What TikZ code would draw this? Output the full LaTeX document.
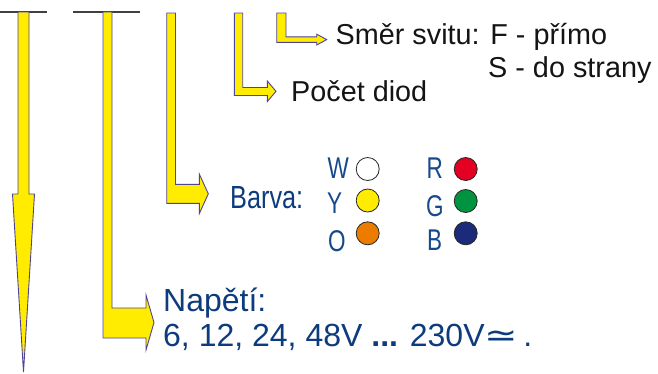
\documentclass[tikz,border=0pt]{standalone}
\usepackage{fontspec}
\setmainfont{Liberation Sans}
\newfontfamily\symfont{DejaVu Sans}
\definecolor{arrowyellow}{RGB}{255,236,0}
\definecolor{arrowedge}{RGB}{78,68,150}
\definecolor{textblue}{RGB}{22,72,140}
\definecolor{darkblue}{RGB}{12,60,125}
\definecolor{ledred}{RGB}{228,0,35}
\definecolor{ledgreen}{RGB}{0,148,64}
\definecolor{ledblue}{RGB}{28,42,122}
\definecolor{ledorange}{RGB}{236,124,0}
\definecolor{ledyellow}{RGB}{255,236,0}
\begin{document}
\begin{tikzpicture}[x=1bp,y=-1bp,
  arrowshape/.style={fill=arrowyellow, draw=arrowedge, line width=0.9bp, line join=miter},
  toprule/.style={draw=black!75, line width=1.2bp},
  lbl/.style={inner sep=0pt, anchor=base west, text=black!92, font=\fontsize{28.8bp}{30bp}\selectfont},
  bluelbl/.style={inner sep=0pt, anchor=base west, text=textblue, font=\fontsize{30bp}{32bp}\selectfont},
  bigblue/.style={inner sep=0pt, anchor=base west, text=darkblue, font=\fontsize{32bp}{34bp}\selectfont},
  led/.style={circle, draw=black!85, line width=0.8bp, minimum size=23bp, inner sep=0pt}
]
\useasboundingbox (0,0) rectangle (658,373);

% top rules
\draw[toprule] (0,12) -- (47,12);
\draw[toprule] (73,12) -- (140,12);

% arrow 1 (straight down)
\draw[arrowshape] (18,12) -- (29,12) -- (29,194) -- (34.5,194) -- (23.5,372) -- (12.5,194) -- (18,194) -- cycle;
% arrow 2 (voltage)
\draw[arrowshape] (103,12) -- (112,12) -- (112,308) -- (146,308) -- (146,295) -- (154,322.5) -- (146,350) -- (146,338) -- (103,338) -- cycle;
% arrow 3 (colour)
\draw[arrowshape] (166.7,13) -- (175.5,13) -- (175.5,184.3) -- (199.3,184.3) -- (199.3,174) -- (208.3,193.8) -- (199.3,213.6) -- (199.3,203.3) -- (166.7,203.3) -- cycle;
% arrow 4 (number of diodes)
\draw[arrowshape] (234.3,13) -- (242.7,13) -- (242.7,87.5) -- (267.3,87.5) -- (267.3,81) -- (276,91.3) -- (267.3,101.6) -- (267.3,95.5) -- (234.3,95.5) -- cycle;
% arrow 5 (direction)
\draw[arrowshape] (276.7,13) -- (286,13) -- (286,36.8) -- (316.7,36.8) -- (316.7,34.2) -- (326.7,39.6) -- (316.7,45) -- (316.7,42.4) -- (276.7,42.4) -- cycle;

% texts
\node[lbl] (smer) at (335.5,44.5) {Směr svitu: F - přímo};
\node[lbl] (strany) at (488,77) {S - do strany};
\node[lbl] (pocet) at (291,101.7) {Počet diod};

\node[bigblue] (barva) at (230,208.3) {\scalebox{0.79}[1]{Barva:}};
\node[bluelbl] (lw) at (327.3,178.3) {\scalebox{0.75}[1]{W}};
\node[bluelbl] (ly) at (327,213.3) {\scalebox{0.75}[1]{Y}};
\node[bluelbl] (lo) at (328,251.5) {\scalebox{0.75}[1]{O}};
\node[bluelbl] (lr) at (426.5,178.3) {\scalebox{0.75}[1]{R}};
\node[bluelbl] (lg) at (426,216.5) {\scalebox{0.75}[1]{G}};
\node[bluelbl] (lb) at (427,250) {\scalebox{0.75}[1]{B}};

\node[led, fill=white] (cw) at (367.7,169) {};
\node[led, fill=ledyellow] (cy) at (367.7,200.5) {};
\node[led, fill=ledorange] (co) at (367.7,233.3) {};
\node[led, fill=ledred] (cr) at (465.7,169) {};
\node[led, fill=ledgreen] (cg) at (465.7,201) {};
\node[led, fill=ledblue] (cb) at (465.7,233.3) {};

\node[bigblue] (napeti) at (163,311.7) {Napětí:};
\node[bigblue] (hodnoty) at (163,346.7) {6, 12, 24, 48V \textbf{...} 230V\scalebox{1.25}[1]{\symfont ≃}\,.};
\end{tikzpicture}
\end{document}
